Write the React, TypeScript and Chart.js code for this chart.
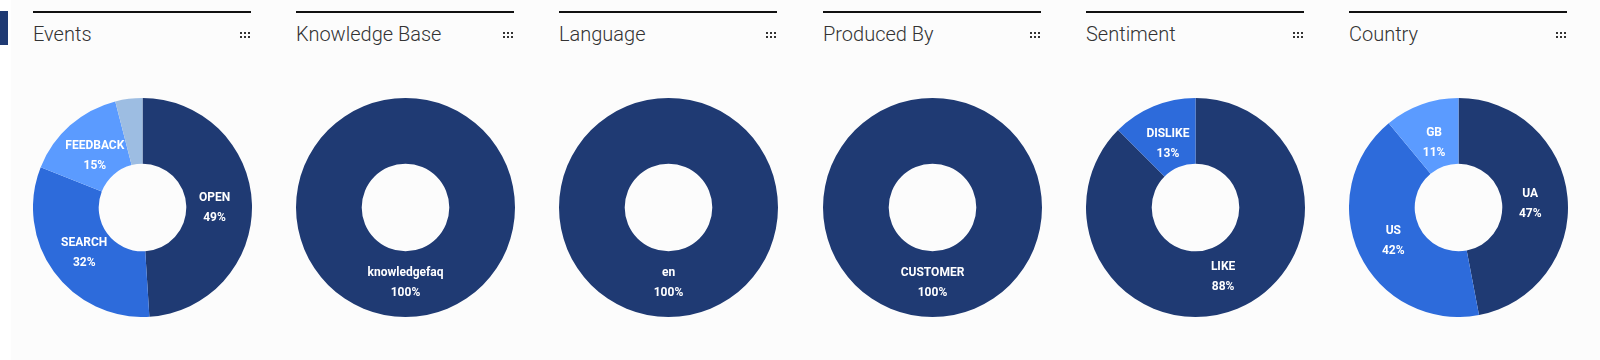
import React, { useEffect, useRef } from "react";
import { Chart, registerables } from "chart.js";

Chart.register(...registerables);

const NAVY = "#1f3a73";
const BLUE = "#2d6bdb";
const LIGHT = "#5b9bff";
const PALE = "#9dbde2";

const panelTitles = ["Events", "Knowledge Base", "Language", "Produced By", "Sentiment", "Country"];

const eventsLabels = ["OPEN", "SEARCH", "FEEDBACK", "OTHER"];
const eventsValues = [49, 32, 15, 4];
const eventsColors = [NAVY, BLUE, LIGHT, PALE];

const kbLabels = ["knowledgefaq"];
const kbValues = [100];

const languageLabels = ["en"];
const languageValues = [100];

const producedLabels = ["CUSTOMER"];
const producedValues = [100];

const sentimentLabels = ["LIKE", "DISLIKE"];
const sentimentValues = [87.5, 12.5];
const sentimentColors = [NAVY, BLUE];

const countryLabels = ["UA", "US", "GB"];
const countryValues = [47, 42, 11];
const countryColors = [NAVY, BLUE, LIGHT];

const panels = [
  { labels: eventsLabels, values: eventsValues, colors: eventsColors },
  { labels: kbLabels, values: kbValues, colors: [NAVY] },
  { labels: languageLabels, values: languageValues, colors: [NAVY] },
  { labels: producedLabels, values: producedValues, colors: [NAVY] },
  { labels: sentimentLabels, values: sentimentValues, colors: sentimentColors },
  { labels: countryLabels, values: countryValues, colors: countryColors },
];

const sliceLabelPlugin = {
  id: "sliceLabels",
  afterDatasetsDraw(chart: any) {
    const ctx = chart.ctx;
    const meta = chart.getDatasetMeta(0);
    const data = chart.data.datasets[0].data as number[];
    const total = data.reduce((a, b) => a + b, 0);
    ctx.save();
    ctx.fillStyle = "#ffffff";
    ctx.textAlign = "center";
    ctx.textBaseline = "middle";
    ctx.font = "bold 12px Roboto";
    meta.data.forEach((arc: any, i: number) => {
      const frac = data[i] / total;
      if (frac < 0.05) return;
      const p = arc.getProps(["x", "y", "startAngle", "endAngle", "innerRadius", "outerRadius"], true);
      const mid = (p.startAngle + p.endAngle) / 2;
      const r = p.innerRadius + 0.43 * (p.outerRadius - p.innerRadius);
      const x = p.x + Math.cos(mid) * r;
      const y = p.y + Math.sin(mid) * r;
      ctx.fillText(String(chart.data.labels[i]), x, y - 7);
      ctx.fillText(Math.round(frac * 100) + "%", x, y + 13);
    });
    ctx.restore();
  },
};

function Donut({ labels, values, colors }: { labels: string[]; values: number[]; colors: string[] }) {
  const ref = useRef<HTMLCanvasElement>(null);
  useEffect(() => {
    const chart = new Chart(ref.current as HTMLCanvasElement, {
      type: "doughnut",
      data: {
        labels,
        datasets: [{ data: values, backgroundColor: colors, borderWidth: 0 }],
      },
      options: {
        responsive: false,
        animation: false,
        cutout: "40%",
        layout: { padding: 0 },
        plugins: { legend: { display: false }, tooltip: { enabled: false } },
      },
      plugins: [sliceLabelPlugin],
    });
    return () => chart.destroy();
  }, []);
  return <canvas ref={ref} width={219} height={219} style={{ width: 219, height: 219 }} />;
}

function DotsIcon() {
  const dots = [];
  for (let r = 0; r < 2; r++)
    for (let c = 0; c < 3; c++)
      dots.push(
        <div
          key={r + "-" + c}
          style={{ position: "absolute", left: c * 4, top: r * 4, width: 2, height: 2, background: "#333" }}
        />
      );
  return <div style={{ position: "relative", width: 10, height: 6 }}>{dots}</div>;
}

export default function App() {
  const pitch = 263.2;
  return (
    <div style={{ position: "fixed", left: 0, top: 0, width: 1600, height: 360, background: "#ffffff", overflow: "hidden" }}>
      <div style={{ position: "absolute", left: 11, top: 0, width: 1589, height: 360, background: "#fcfcfc" }} />
      <div style={{ position: "absolute", left: 0, top: 11, width: 8, height: 34, background: NAVY }} />
      {panels.map((p, i) => {
        const left = Math.round(33 + i * pitch);
        return (
          <div key={i} style={{ position: "absolute", left, top: 0, width: 219, height: 360 }}>
            <div style={{ position: "absolute", left: 0, top: 11, width: 218, height: 2, background: "#111" }} />
            <div
              style={{
                position: "absolute",
                left: 0,
                top: 22,
                fontFamily: "Roboto",
                fontWeight: 300,
                fontSize: 20,
                lineHeight: "24px",
                color: "#333",
                whiteSpace: "nowrap",
              }}
            >
              {panelTitles[i]}
            </div>
            <div style={{ position: "absolute", left: 207, top: 32 }}>
              <DotsIcon />
            </div>
            <div style={{ position: "absolute", left: 0, top: 98 }}>
              <Donut labels={p.labels} values={p.values} colors={p.colors} />
            </div>
          </div>
        );
      })}
    </div>
  );
}
